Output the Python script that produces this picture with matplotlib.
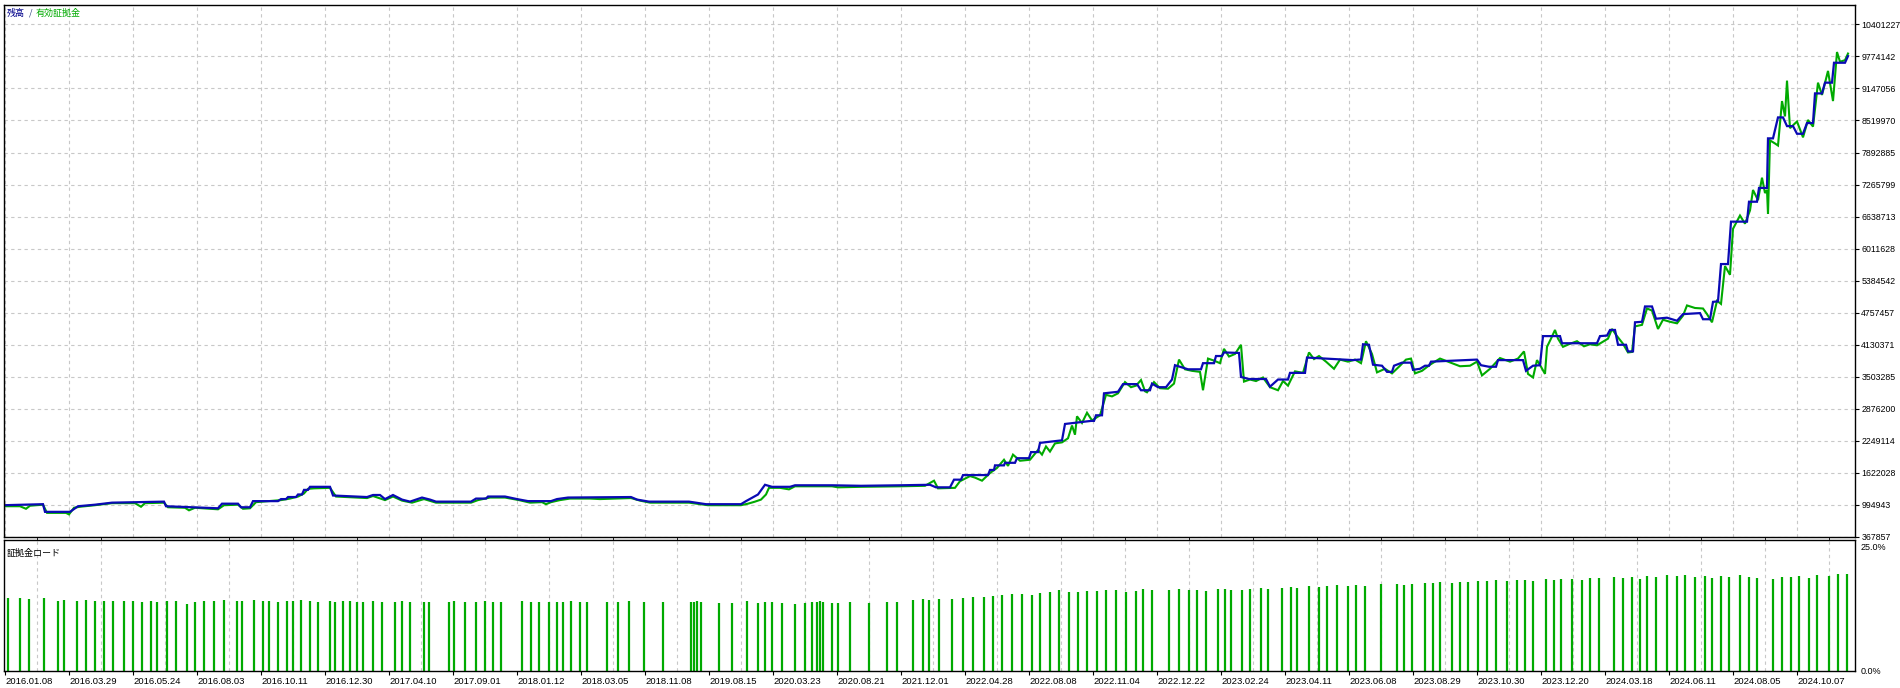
import numpy as np
import matplotlib
matplotlib.use("Agg")
import matplotlib.pyplot as plt

# balance / equity in millions, x = deal position on the chart scale
balance_x = [4, 43, 45, 70, 78, 95, 112, 164, 166, 218, 222, 238, 241, 250, 253, 278, 281, 286,
             288, 296, 298, 302, 304, 308, 310, 330, 333, 367, 373, 380, 385, 393, 402, 410, 422,
             430, 436, 471, 476, 486, 488, 505, 517, 528, 551, 557, 568, 631, 637, 649, 689, 706,
             741, 746, 758, 765, 772, 790, 795, 832, 861, 900,
             930, 936, 950, 954, 961, 963, 988, 990, 994, 995, 1004, 1005, 1015, 1017, 1029, 1031,
             1038, 1040, 1062, 1065, 1091, 1094, 1096, 1102, 1104, 1118, 1123, 1137, 1141, 1150,
             1152, 1158, 1166, 1172, 1175, 1188, 1201, 1203, 1214, 1216, 1222, 1224, 1239, 1241,
             1249, 1266, 1270, 1278, 1288, 1290, 1305, 1307, 1353, 1359, 1361, 1363, 1369, 1373,
             1382, 1387, 1392, 1394, 1402, 1411, 1413, 1420, 1425, 1429, 1431, 1477, 1481, 1489,
             1496, 1498, 1523, 1526,
             1533, 1540, 1543, 1560, 1562, 1597, 1600, 1607, 1610, 1615, 1618, 1626, 1628, 1633,
             1635, 1642, 1645, 1652, 1656, 1667, 1677, 1683, 1700, 1703, 1710, 1713, 1718, 1721,
             1728, 1731, 1747, 1749, 1757, 1759, 1767, 1768, 1773, 1778, 1783, 1787, 1793, 1797,
             1803, 1807, 1813, 1815, 1822, 1825, 1832, 1834, 1845, 1848]
balance_m = [0.99, 1.01, 0.86, 0.86, 0.97, 1.00, 1.04, 1.06, 0.97, 0.93, 1.02, 1.02, 0.95, 0.95,
             1.07, 1.07, 1.11, 1.11, 1.15, 1.15, 1.20, 1.20, 1.29, 1.29, 1.35, 1.35, 1.18, 1.15,
             1.19, 1.19, 1.11, 1.19, 1.10, 1.06, 1.14, 1.10, 1.06, 1.06, 1.12, 1.12, 1.16, 1.16,
             1.11, 1.07, 1.07, 1.11, 1.14, 1.15, 1.10, 1.06, 1.06, 1.01, 1.01, 1.07, 1.20, 1.39,
             1.35, 1.35, 1.38, 1.38, 1.37, 1.38,
             1.39, 1.34, 1.34, 1.49, 1.49, 1.58, 1.58, 1.68, 1.68, 1.77, 1.77, 1.82, 1.82, 1.91,
             1.91, 2.03, 2.03, 2.21, 2.26, 2.58, 2.64, 2.64, 2.75, 2.75, 3.18, 3.21, 3.36, 3.36,
             3.24, 3.24, 3.37, 3.30, 3.30, 3.45, 3.73, 3.65, 3.65, 3.77, 3.77, 3.91, 3.91, 3.98,
             3.97, 3.50, 3.46, 3.46, 3.31, 3.45, 3.45, 3.58, 3.58, 3.88, 3.83, 3.84, 3.84, 4.14,
             4.13, 3.74, 3.72, 3.60, 3.60, 3.72, 3.78, 3.78, 3.64, 3.66, 3.72, 3.72, 3.80, 3.84,
             3.73, 3.70, 3.70, 3.83, 3.83, 3.62,
             3.72, 3.73, 4.30, 4.30, 4.16, 4.16, 4.30, 4.31, 4.42, 4.42, 4.13, 4.13, 4.00, 4.00,
             4.57, 4.58, 4.88, 4.88, 4.64, 4.66, 4.60, 4.73, 4.75, 4.63, 4.63, 4.97, 4.98, 5.71,
             5.71, 6.54, 6.54, 6.93, 6.93, 7.20, 7.20, 8.17, 8.17, 8.58, 8.58, 8.41, 8.41, 8.26,
             8.26, 8.47, 8.47, 9.05, 9.05, 9.26, 9.26, 9.65, 9.65, 9.78]

equity_x = [4, 20, 26, 30, 43, 47, 66, 69, 74, 80, 95, 112, 135, 141, 145, 164, 168, 185, 189,
            195, 218, 224, 238, 243, 250, 256, 281, 290, 298, 304, 308, 314, 330, 336, 367, 373,
            385, 393, 402, 412, 424, 436, 471, 478, 490, 505, 519, 530, 542, 546, 551, 560, 570,
            590, 600, 631, 640, 650, 689, 708, 741, 748, 755, 761, 766, 769, 780, 789, 795, 832,
            838, 861, 900,
            925, 934, 938, 955, 960, 970, 975, 982, 990, 997, 1004, 1008, 1013, 1020, 1030, 1038,
            1042, 1046, 1050, 1055, 1062, 1068, 1072, 1075, 1077, 1082, 1087, 1092, 1100, 1106,
            1112, 1118, 1125, 1131, 1136, 1141, 1145, 1147, 1154, 1160, 1168, 1174, 1179, 1185,
            1192, 1200, 1203, 1208, 1214, 1220, 1224, 1229, 1235, 1241, 1244, 1250, 1256, 1263,
            1270, 1278, 1283, 1288, 1295, 1303, 1309, 1314, 1319, 1326, 1334, 1340, 1348, 1355,
            1361, 1366, 1372, 1377, 1385, 1392, 1400, 1406, 1411, 1415, 1422, 1430, 1440, 1448,
            1460, 1470, 1477, 1482, 1490, 1500, 1510, 1518, 1524, 1528, 1533, 1537, 1541, 1545,
            1547, 1551, 1555, 1558, 1563, 1570, 1577, 1584, 1590, 1597, 1602, 1608, 1612, 1617,
            1623, 1628, 1632, 1635, 1642, 1647, 1652, 1658, 1663, 1670, 1677, 1683, 1687, 1695,
            1703, 1707, 1712, 1717, 1721, 1725, 1730, 1733, 1740, 1745, 1750, 1753, 1758, 1762,
            1765, 1767, 1768, 1770, 1775, 1778, 1782, 1785, 1787, 1790, 1797, 1803, 1808, 1813,
            1818, 1822, 1828, 1833, 1837, 1840, 1845, 1848]
equity_m = [0.97, 0.97, 0.92, 0.98, 1.00, 0.84, 0.84, 0.81, 0.94, 0.96, 0.99, 1.03, 1.03, 0.96,
            1.03, 1.04, 0.95, 0.94, 0.89, 0.94, 0.91, 0.99, 1.00, 0.92, 0.93, 1.05, 1.09, 1.12,
            1.16, 1.22, 1.31, 1.32, 1.33, 1.16, 1.13, 1.17, 1.09, 1.16, 1.08, 1.04, 1.11, 1.04,
            1.04, 1.09, 1.14, 1.14, 1.09, 1.04, 1.05, 1.01, 1.05, 1.09, 1.12, 1.12, 1.11, 1.13,
            1.08, 1.04, 1.04, 0.99, 0.99, 1.02, 1.06, 1.10, 1.20, 1.33, 1.33, 1.30, 1.36, 1.36,
            1.34, 1.35, 1.36,
            1.37, 1.47, 1.32, 1.33, 1.46, 1.56, 1.53, 1.47, 1.62, 1.72, 1.88, 1.76, 1.98, 1.86,
            1.88, 2.07, 1.98, 2.14, 2.04, 2.20, 2.22, 2.30, 2.55, 2.37, 2.73, 2.60, 2.80, 2.65,
            2.75, 3.15, 3.12, 3.18, 3.40, 3.30, 3.33, 3.44, 3.22, 3.20, 3.40, 3.28, 3.27, 3.37,
            3.84, 3.65, 3.62, 3.60, 3.24, 3.86, 3.82, 3.77, 4.05, 3.90, 3.95, 4.13, 3.41, 3.45,
            3.42, 3.49, 3.30, 3.24, 3.42, 3.33, 3.61, 3.58, 3.98, 3.85, 3.91, 3.80, 3.66, 3.84,
            3.80, 3.84, 3.77, 4.20, 3.95, 3.59, 3.66, 3.57, 3.72, 3.84, 3.86, 3.57, 3.62, 3.74,
            3.86, 3.80, 3.71, 3.72, 3.80, 3.53, 3.66, 3.87, 3.80, 3.86, 4.00, 3.56, 3.49, 3.83,
            3.70, 3.56, 4.09, 4.25, 4.42, 4.25, 4.09, 4.15, 4.20, 4.10, 4.14, 4.12, 4.18, 4.25,
            4.44, 4.30, 4.15, 3.98, 3.99, 4.49, 4.52, 4.84, 4.80, 4.44, 4.62, 4.58, 4.55, 4.70,
            4.90, 4.85, 4.84, 4.73, 4.57, 4.99, 4.93, 5.67, 5.50, 6.40, 6.66, 6.50, 6.76, 7.16,
            6.96, 7.40, 7.10, 7.16, 6.69, 8.13, 8.07, 8.03, 8.90, 8.60, 9.30, 8.37, 8.50, 8.19,
            8.53, 8.40, 9.26, 9.02, 9.49, 8.90, 9.86, 9.67, 9.70, 9.83]

# margin load bars (%)
load_x = [8, 20, 29, 44, 58, 64, 77, 86, 95, 104, 113, 124, 133, 142, 151, 157, 167, 176, 187,
          195, 204, 214, 224, 237, 242, 254, 263, 269, 278, 287, 293, 301, 310, 318, 330, 335,
          343, 350, 357, 363, 373, 382, 395, 402, 410, 424, 429, 449, 454, 465, 476, 485, 493,
          501, 522, 531, 539, 549, 557, 563, 571, 580, 587, 607, 618, 629,
          644, 663, 691, 694, 697, 701, 719, 732, 747, 758, 765, 772, 782, 795, 805, 812, 817,
          820, 823, 832, 838, 850, 869, 887, 897, 913, 923, 929, 939, 952, 963, 973, 984, 993,
          1002, 1012, 1022, 1032, 1040, 1050, 1059, 1069, 1078, 1087, 1097, 1106, 1116, 1126,
          1136, 1143, 1152, 1169, 1179, 1189, 1197, 1206, 1218, 1225, 1231, 1242, 1250, 1261,
          1268, 1282, 1291, 1297, 1309, 1319, 1327, 1337, 1348, 1356, 1365, 1381, 1397, 1404,
          1412, 1425, 1433, 1440, 1452, 1460, 1468, 1478, 1487, 1496, 1507, 1517, 1525, 1533,
          1546, 1554, 1561, 1572, 1582, 1590, 1599, 1614, 1623, 1632, 1640, 1647, 1656, 1667,
          1677, 1685, 1695, 1705, 1712, 1721, 1729, 1740, 1749, 1757, 1773, 1782, 1791, 1799,
          1809, 1817, 1829, 1838, 1847]
load_pct = [14.8, 14.8, 14.6, 14.7, 14.2, 14.4, 14.2, 14.3, 14.2, 14.1, 14.2, 14.1, 14.2, 14.0,
            14.2, 14.0, 14.2, 14.1, 13.6, 14.0, 14.1, 14.2, 14.3, 14.1, 14.2, 14.3, 14.1, 14.2,
            14.0, 14.2, 14.1, 14.3, 14.1, 14.0, 14.2, 14.0, 14.1, 14.2, 14.0, 13.9, 14.1, 14.0,
            13.9, 14.1, 14.0, 14.0, 13.9, 14.0, 14.1, 14.0, 14.0, 14.1, 13.9, 14.0, 14.1, 14.0,
            14.0, 14.0, 13.9, 14.0, 14.1, 13.9, 14.0, 14.0, 14.0, 14.1,
            13.9, 14.0, 14.0, 14.0, 14.1, 14.0, 13.8, 13.7, 14.1, 13.8, 13.9, 14.0, 13.8, 13.6,
            13.8, 14.0, 14.0, 14.1, 14.0, 13.8, 13.8, 13.9, 13.8, 14.0, 14.0, 14.3, 14.5, 14.4,
            14.5, 14.6, 14.8, 15.0, 15.0, 15.1, 15.3, 15.5, 15.6, 15.4, 15.8, 16.0, 16.3, 15.9,
            16.0, 16.2, 16.1, 16.3, 16.4, 16.0, 16.2, 16.5, 16.3, 16.4, 16.5, 16.3, 16.4, 16.2,
            16.5, 16.6, 16.3, 16.4, 16.5, 16.8,
            16.6, 16.8, 17.0, 16.7, 17.1, 16.9, 17.2, 17.3, 17.1, 17.4, 17.2, 17.5, 17.6, 17.4,
            17.6, 17.8, 17.7, 17.9, 17.7, 18.0, 17.9, 18.2, 18.1, 18.3, 18.2, 18.4, 18.3, 18.1,
            18.5, 18.3, 18.6, 18.5, 18.4, 18.8, 18.7, 18.9, 18.8, 19.0, 18.6, 19.2, 19.0, 19.4,
            19.1, 19.3, 19.0, 19.2, 18.8, 19.1, 18.9, 19.3, 19.0, 18.8, 18.6, 18.9, 19.0, 19.2,
            18.8, 19.3, 19.1, 19.5, 19.6]

date_labels = ["2016.01.08", "2016.03.29", "2016.05.24", "2016.08.03", "2016.10.11",
               "2016.12.30", "2017.04.10", "2017.09.01", "2018.01.12", "2018.03.05",
               "2018.11.08", "2019.08.15", "2020.03.23", "2020.08.21", "2021.12.01",
               "2022.04.28", "2022.08.08", "2022.11.04", "2022.12.22", "2023.02.24",
               "2023.04.11", "2023.06.08", "2023.08.29", "2023.10.30", "2023.12.20",
               "2024.03.18", "2024.06.11", "2024.08.05", "2024.10.07"]
value_labels = ["367857", "994943", "1622028", "2249114", "2876200", "3503285", "4130371",
                "4757457", "5384542", "6011628", "6638713", "7265799", "7892885", "8519970",
                "9147056", "9774142", "10401227"]

BLUE = "#0a0ab4"
GREEN = "#00aa00"
GRID = "#c8c8c8"
FONT = ["Liberation Sans", "Noto Sans CJK JP", "DejaVu Sans"]
JP = ["Noto Sans CJK JP", "DejaVu Sans"]

plt.rcParams["font.family"] = FONT

fig = plt.figure(figsize=(19, 6.88), dpi=100)
ax = fig.add_axes([4 / 1900, 1 - 537 / 688, 1851 / 1900, 532.5 / 688])
ax2 = fig.add_axes([4 / 1900, 1 - 671 / 688, 1851 / 1900, 131 / 688], sharex=ax)

# x scale: date label every 64 units, grid every 32
x_min, x_max = 4, 1855
date_pos = 5 + 64 * np.arange(len(date_labels))
grid_pos = np.arange(37, x_max, 32)

# y scale of the balance panel
vals = np.array([int(v) for v in value_labels])
step = (vals[-1] - vals[0]) / (len(vals) - 1)
y_top = vals[0] + step * 16.62

ax.plot(equity_x, np.array(equity_m) * 1e6, color=GREEN, lw=1.5, solid_joinstyle="miter")
ax.plot(balance_x, np.array(balance_m) * 1e6, color=BLUE, lw=1.6, solid_joinstyle="miter")
ax.set_xlim(x_min, x_max)
ax.set_ylim(vals[0], y_top)

ax.yaxis.tick_right()
ax.set_yticks(vals)
ax.set_yticklabels(value_labels)
ax.tick_params(axis="y", direction="out", length=3, width=0.8, pad=1.5, labelsize=6.3,
               colors="black")
ax.set_xticks(grid_pos)
ax.tick_params(axis="x", length=0, labelbottom=False)
ax.grid(True, color=GRID, linestyle=(0, (3, 3)), lw=0.8)

ax2.vlines(load_x, 0, load_pct, color=GREEN, lw=1.6)
ax2.set_ylim(0, 26.4)
ax2.yaxis.tick_right()
ax2.set_yticks([0, 25])
ax2.set_yticklabels(["0.0%", "25.0%"])
ax2.tick_params(axis="y", length=0, pad=4, labelsize=6.5)
ax2.set_xticks(date_pos)
ax2.set_xticklabels(date_labels, ha="left")
ax2.set_xticks(grid_pos, minor=True)
ax2.tick_params(axis="x", which="major", direction="out", length=3, width=0.8, pad=1,
                labelsize=6.8)
ax2.tick_params(axis="x", which="minor", length=0)
ax2.grid(True, which="minor", axis="x", color=GRID, linestyle=(0, (3, 3)), lw=0.8)
ax2.set_xlim(x_min, x_max)

for a in (ax, ax2):
    for s in a.spines.values():
        s.set_color("black")
        s.set_linewidth(1.0)

# header texts
fig.text(7 / 1900, 1 - 13 / 688, "残高", color="#00008b", fontsize=6.5, family=JP,
         va="center", ha="left")
fig.text(29 / 1900, 1 - 13 / 688, "/", color="#304080", fontsize=6.5, family=JP,
         va="center", ha="left")
fig.text(36 / 1900, 1 - 13 / 688, "有効証拠金", color=GREEN, fontsize=6.5, family=JP,
         va="center", ha="left")
fig.text(7 / 1900, 1 - 553 / 688, "証拠金ロード", color="black", fontsize=6.5, family=JP,
         va="center", ha="left")

fig.savefig("out.png", dpi=100, facecolor="white")
